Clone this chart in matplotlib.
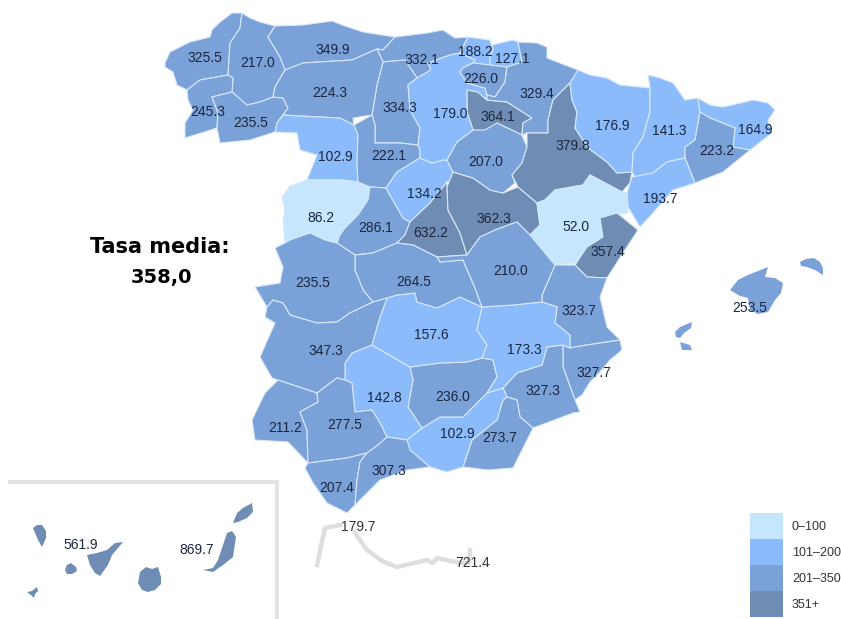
import matplotlib
matplotlib.use('Agg')
import matplotlib.pyplot as plt

# rate per province
rates = {
    'coruna': 325.5, 'lugo': 217.0, 'pontevedra': 245.3, 'ourense': 235.5, 'asturias': 349.9,
    'cantabria': 332.1, 'leon': 224.3, 'palencia': 334.3, 'burgos': 179.0, 'zamora': 102.9,
    'valladolid': 222.1, 'salamanca': 86.2, 'avila': 286.1, 'segovia': 134.2, 'madrid': 632.2,
    'guadalajara': 362.3, 'soria': 207.0, 'rioja': 364.1, 'bizkaia': 188.2, 'gipuzkoa': 127.1,
    'alava': 226.0, 'navarra': 329.4, 'zaragoza': 379.8, 'huesca': 176.9, 'lleida': 141.3,
    'girona': 164.9, 'barcelona': 223.2, 'tarragona': 193.7, 'teruel': 52.0, 'castellon': 357.4,
    'valencia': 323.7, 'alicante': 327.7, 'murcia': 327.3, 'almeria': 273.7, 'granada': 102.9,
    'jaen': 236.0, 'cordoba': 142.8, 'ciudadreal': 157.6, 'albacete': 173.3, 'toledo': 264.5,
    'cuenca': 210.0, 'caceres': 235.5, 'badajoz': 347.3, 'huelva': 211.2, 'sevilla': 277.5,
    'cadiz': 207.4, 'malaga': 307.3, 'baleares': 253.5, 'tenerife': 561.9, 'laspalmas': 869.7,
}
ceuta = 179.7
melilla = 721.4

# province outlines in pixels
outlines = {
    'coruna': [[(165,63),(170,52),(180,47),(190,42),(210,37),(212,30),(220,22),(232,13),(242,13),(240,28),(230,43),(228,75),(200,80),(187,90),(177,85),(173,72),(165,67)]],
    'lugo': [[(242,13),(250,18),(260,22),(275,26),(268,37),(280,57),(285,70),(275,87),(273,97),(260,102),(247,105),(232,92),(233,78),(228,75),(230,43),(240,28)]],
    'pontevedra': [[(228,75),(233,78),(232,92),(212,97),(218,113),(217,128),(185,138),(185,123),(193,110),(188,100),(187,90),(200,80)]],
    'ourense': [[(212,97),(232,92),(247,105),(260,102),(273,97),(283,98),(288,108),(277,123),(275,132),(250,140),(220,143),(217,128),(218,113)]],
    'asturias': [[(275,26),(303,25),(332,21),(345,26),(363,32),(395,37),(383,50),(377,49),(368,53),(352,60),(303,63),(285,70),(280,57),(268,37)]],
    'cantabria': [[(395,37),(427,33),(443,30),(455,38),(468,37),(460,53),(450,55),(428,63),(431,70),(417,78),(405,60),(383,62),(377,49),(383,50)]],
    'palencia': [[(383,62),(405,60),(417,78),(408,85),(410,110),(420,128),(418,145),(400,143),(375,143),(375,125),(372,115),(377,85)]],
    'leon': [[(285,70),(303,63),(352,60),(368,53),(377,49),(383,62),(377,85),(372,115),(353,118),(354,125),(340,118),(300,116),(283,115),(288,108),(283,98),(273,97),(275,87)]],
    'zamora': [[(277,123),(283,115),(300,116),(340,118),(354,125),(358,135),(357,163),(358,182),(340,180),(307,180),(317,155),(300,150),(297,133),(275,132)]],
    'salamanca': [[(282,197),(290,186),(307,180),(340,180),(358,182),(370,187),(368,200),(358,215),(345,228),(340,235),(337,243),(325,240),(310,233),(290,240),(285,243),(283,222),(285,210)]],
    'valladolid': [[(354,125),(372,115),(375,125),(375,143),(400,143),(418,145),(420,150),(420,158),(397,172),(386,188),(370,187),(358,182),(357,163),(358,135)]],
    'avila': [[(370,187),(386,188),(403,218),(410,222),(405,235),(397,243),(373,253),(355,255),(337,243),(340,235),(345,228),(358,215),(368,200)]],
    'segovia': [[(420,158),(432,163),(443,160),(447,160),(453,172),(460,177),(447,182),(430,203),(410,222),(403,218),(386,188),(397,172)]],
    'madrid': [[(447,182),(447,187),(448,210),(460,233),(467,255),(437,257),(413,245),(397,243),(405,235),(410,222),(430,203)]],
    'guadalajara': [[(447,187),(453,172),(473,178),(490,190),(503,193),(518,187),(537,203),(540,225),(530,235),(517,222),(495,230),(480,237),(467,255),(460,233),(448,210)]],
    'soria': [[(447,160),(457,142),(473,130),(497,123),(512,130),(522,135),(527,147),(522,163),(512,175),(515,183),(503,193),(490,190),(473,178),(453,172)]],
    'rioja': [[(467,90),(478,92),(487,100),(507,102),(532,118),(523,123),(522,135),(512,130),(497,123),(485,130),(473,130),(467,112)]],
    'burgos': [[(408,85),(417,78),(431,70),(428,63),(450,55),(460,53),(475,60),(473,63),(463,68),(460,72),(467,83),(485,88),(487,95),(487,100),(478,92),(467,90),(467,112),(473,130),(457,142),(447,160),(443,160),(432,163),(420,158),(420,150),(418,145),(420,128),(410,110)]],
    'bizkaia': [[(468,37),(490,40),(493,50),(490,58),(490,65),(473,63),(475,60),(460,53)]],
    'gipuzkoa': [[(492,45),(513,40),(518,42),(522,62),(507,67),(490,65),(490,58),(493,50)]],
    'alava': [[(463,68),(473,63),(490,65),(507,67),(505,82),(495,97),(487,95),(485,88),(467,83),(460,72)]],
    'navarra': [[(518,42),(537,43),(547,47),(547,58),(578,70),(570,83),(553,100),(548,120),(548,133),(527,133),(522,135),(523,123),(532,118),(507,102),(487,100),(487,95),(495,97),(505,82),(507,67),(522,62)]],
    'zaragoza': [[(570,83),(572,100),(577,112),(575,128),(588,148),(607,162),(617,173),(632,172),(630,183),(622,192),(590,175),(583,185),(555,190),(545,200),(537,203),(518,187),(512,175),(522,163),(527,147),(527,133),(548,133),(548,120),(553,100)]],
    'huesca': [[(578,70),(590,75),(607,78),(620,85),(650,88),(650,112),(643,137),(633,153),(632,172),(617,173),(607,162),(588,148),(575,128),(577,112),(572,100),(570,83)]],
    'lleida': [[(648,75),(660,78),(673,83),(685,100),(698,98),(700,112),(695,140),(685,147),(685,158),(667,162),(653,173),(635,177),(632,172),(633,153),(643,137),(650,112),(650,88)]],
    'girona': [[(698,98),(710,105),(723,107),(745,102),(753,100),(768,103),(775,110),(768,120),(772,133),(750,150),(733,147),(735,128),(710,118),(700,112)]],
    'barcelona': [[(700,112),(710,118),(735,128),(733,147),(750,150),(723,172),(695,183),(685,158),(685,147),(695,140)]],
    'tarragona': [[(632,177),(653,173),(667,162),(685,158),(695,183),(673,190),(653,213),(640,227),(628,207),(627,193),(630,183)]],
    'teruel': [[(545,200),(555,190),(583,185),(590,175),(622,192),(627,193),(628,213),(600,218),(603,237),(587,247),(575,263),(555,265),(530,235),(540,225),(537,203)]],
    'castellon': [[(600,218),(617,213),(638,230),(623,253),(607,278),(587,277),(575,265),(587,247),(603,237)]],
    'valencia': [[(555,265),(575,265),(587,277),(607,278),(600,297),(607,327),(620,340),(587,345),(570,348),(570,335),(555,323),(557,307),(542,302),(542,295)]],
    'alicante': [[(570,348),(587,345),(620,340),(622,350),(610,360),(600,372),(590,382),(582,395),(575,400),(563,367),(563,345)]],
    'murcia': [[(563,345),(547,347),(542,365),(517,373),(503,388),(507,397),(517,400),(520,417),(533,428),(573,413),(580,412),(575,400),(563,367)]],
    'almeria': [[(507,397),(517,400),(520,417),(533,428),(513,468),(488,470),(463,467),(472,440),(497,420),(503,400)]],
    'granada': [[(503,388),(487,393),(473,407),(463,417),(440,417),(422,428),(407,440),(410,450),(430,467),(447,472),(463,467),(472,440),(497,420),(503,400),(507,397)]],
    'jaen': [[(410,367),(440,363),(467,362),(482,358),(493,360),(497,377),(487,393),(473,407),(463,417),(440,417),(422,428),(408,407),(413,380)]],
    'cordoba': [[(372,345),(410,367),(413,380),(408,407),(422,428),(407,440),(387,437),(380,423),(372,410),(355,412),(352,383),(345,380),(345,363),(352,353)]],
    'ciudadreal': [[(387,298),(397,295),(415,293),(417,302),(437,308),(460,297),(482,307),(477,330),(487,345),(482,358),(467,362),(440,363),(410,367),(372,345),(377,327),(380,317)]],
    'albacete': [[(482,307),(513,305),(542,302),(557,307),(555,323),(570,335),(570,348),(563,345),(547,347),(542,365),(517,373),(503,388),(487,393),(497,377),(493,360),(482,358),(487,345),(477,330)]],
    'toledo': [[(355,255),(373,253),(397,243),(413,245),(437,257),(440,262),(463,260),(475,288),(482,307),(460,297),(437,308),(417,302),(415,293),(397,295),(387,298),(373,302),(363,290),(355,270)]],
    'cuenca': [[(467,255),(480,237),(495,230),(517,222),(530,235),(555,265),(542,295),(542,302),(513,305),(482,307),(475,288),(463,260),(440,262),(437,257)]],
    'caceres': [[(275,248),(285,243),(290,240),(310,233),(325,240),(337,243),(355,255),(355,270),(363,290),(373,302),(350,313),(337,322),(317,323),(290,315),(283,303),(273,300),(267,307),(255,287),(280,283),(283,267)]],
    'badajoz': [[(267,307),(273,300),(283,303),(290,315),(317,323),(337,322),(350,313),(373,302),(387,298),(380,317),(377,327),(372,345),(352,353),(345,363),(345,380),(337,378),(317,393),(278,380),(272,378),(260,357),(275,323),(265,317)]],
    'huelva': [[(278,380),(317,393),(318,402),(300,412),(307,430),(308,463),(288,442),(255,440),(252,420),(265,393)]],
    'sevilla': [[(317,393),(337,378),(345,380),(352,383),(355,412),(372,410),(380,423),(387,437),(378,445),(367,453),(347,458),(308,463),(307,430),(300,412),(318,402)]],
    'cadiz': [[(308,463),(347,458),(367,453),(360,462),(357,480),(355,505),(347,513),(327,503),(313,483),(305,468)]],
    'malaga': [[(367,453),(378,445),(387,437),(407,440),(410,450),(430,467),(407,470),(380,480),(355,505),(357,480),(360,462)]],
    'baleares': [[(730,290),(738,280),(748,275),(768,267),(765,277),(775,278),(783,283),(781,293),(775,300),(768,312),(758,314),(750,310),(748,298),(740,296)],
                 [(800,262),(806,259),(814,258),(820,262),(823,268),(823,275),(815,270),(807,267),(801,266)],
                 [(675,332),(680,327),(692,322),(691,328),(684,333),(680,338),(676,337)],
                 [(680,342),(690,345),(692,350),(682,350)]],
    'tenerife': [[(87,555),(97,553),(107,550),(115,543),(123,542),(118,548),(112,555),(108,565),(100,576),(95,573),(90,565)],
                 [(65,570),(67,565),(71,563),(76,567),(77,571),(72,574),(67,574)],
                 [(33,528),(37,525),(42,525),(46,531),(46,538),(42,547),(38,540)],
                 [(27,592),(32,591),(37,587),(38,591),(35,594),(34,598),(31,595)]],
    'laspalmas': [[(138,583),(140,572),(146,567),(152,569),(158,567),(161,577),(161,584),(155,590),(148,592),(142,590)],
                  [(203,570),(213,568),(218,560),(223,545),(227,533),(232,531),(236,537),(233,557),(223,565),(213,572)],
                  [(233,523),(237,513),(243,508),(252,503),(253,512),(247,518),(238,522)]],
}

# where each number sits
label_pos = {
    'coruna': (205,58), 'lugo': (258,63), 'pontevedra': (208,112), 'ourense': (251,123), 'asturias': (333,50),
    'cantabria': (422,60), 'leon': (330,93), 'palencia': (400,108), 'burgos': (450,114), 'zamora': (335,157),
    'valladolid': (389,156), 'salamanca': (321,218), 'avila': (376,228), 'segovia': (424,194), 'madrid': (431,233),
    'guadalajara': (494,219), 'soria': (486,162), 'rioja': (498,117), 'bizkaia': (475,52), 'gipuzkoa': (512,59),
    'alava': (481,79), 'navarra': (537,94), 'zaragoza': (573,146), 'huesca': (612,126), 'lleida': (669,131),
    'girona': (755,130), 'barcelona': (717,151), 'tarragona': (660,199), 'teruel': (576,227), 'castellon': (608,252),
    'valencia': (579,311), 'alicante': (594,373), 'murcia': (543,391), 'almeria': (500,438), 'granada': (457,434),
    'jaen': (453,397), 'cordoba': (384,398), 'ciudadreal': (431,335), 'albacete': (524,350), 'toledo': (414,282),
    'cuenca': (511,271), 'caceres': (313,283), 'badajoz': (326,351), 'huelva': (285,428), 'sevilla': (345,425),
    'cadiz': (337,488), 'malaga': (389,471), 'baleares': (750,308), 'tenerife': (81,545), 'laspalmas': (197,550),
}

bin_colors = ['#C6E6FE', '#8BBBFA', '#7AA1D8', '#6F8DB4']
legend_labels = ['0\u2013100', '101\u2013200', '201\u2013350', '351+']
legend_tops = [513, 539, 565, 591]
legend_text_y = [527, 553, 579, 605]

frame_x = [10, 277, 277]
frame_y = [482, 482, 619]
ceuta_line_x = [317, 325, 340]
ceuta_line_y = [565, 528, 525]
melilla_line_x = [355, 367, 382, 397, 427, 433, 437, 460, 469, 470]
melilla_line_y = [533, 550, 561, 567, 560, 563, 558, 563, 563, 550]

def bin_color(v):
	if v <= 100:
		return bin_colors[0]
	if v <= 200:
		return bin_colors[1]
	if v <= 350:
		return bin_colors[2]
	return bin_colors[3]

fig = plt.figure(figsize=(8.41, 6.19), dpi=100)
ax = fig.add_axes([0, 0, 1, 1])
ax.set_xlim(0, 841)
ax.set_ylim(619, 0)
ax.axis('off')

# inset frame and the Ceuta / Melilla leaders
ax.plot(frame_x, frame_y, color='#E3E3E3', lw=2.8, solid_joinstyle='miter')
ax.plot(ceuta_line_x, ceuta_line_y, color='#DEDEDE', lw=3.2)
ax.plot(melilla_line_x, melilla_line_y, color='#DEDEDE', lw=3.2)

for name, parts in outlines.items():
	for part in parts:
		xs = [p[0] for p in part]
		ys = [p[1] for p in part]
		edge = '#D8E8FA' if len(parts) == 1 else 'none'
		ax.fill(xs, ys, facecolor=bin_color(rates[name]), edgecolor=edge, lw=0.8, joinstyle='round')

for name, pos in label_pos.items():
	ax.text(pos[0], pos[1], f'{rates[name]:.1f}', ha='center', va='center', fontsize=10,
		family='Liberation Sans', color='#1C2740')
ax.text(358, 527, f'{ceuta:.1f}', ha='center', va='center', fontsize=10, family='Liberation Sans', color='#333333')
ax.text(473, 563, f'{melilla:.1f}', ha='center', va='center', fontsize=10, family='Liberation Sans', color='#333333')

# legend
for i in range(4):
	ax.bar(766.5, 26, width=33, bottom=legend_tops[i], color=bin_colors[i], linewidth=0)
	ax.text(792, legend_text_y[i], legend_labels[i], va='center', ha='left', fontsize=9,
		family='Liberation Sans', color='#333333')

ax.text(160, 247, 'Tasa media:', ha='center', va='center', fontsize=15, fontweight='bold', family='DejaVu Sans', color='black')
ax.text(161, 277, '358,0', ha='center', va='center', fontsize=14, fontweight='bold', family='DejaVu Sans', color='black')

fig.savefig('out.png', dpi=100)
